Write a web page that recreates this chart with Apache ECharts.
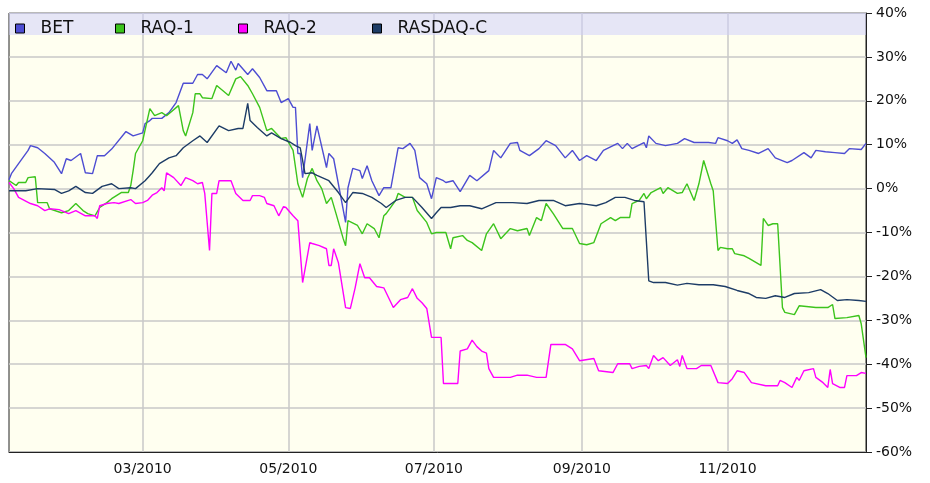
<!DOCTYPE html>
<html>
<head>
<meta charset="utf-8">
<script src="https://cdn.jsdelivr.net/npm/echarts@6/dist/echarts.min.js"></script>
<style>
html, body { margin: 0; padding: 0; background: #fff; }
#chart { width: 930px; height: 483px; }
</style>
</head>
<body>
<div id="chart"></div>
<script>
// x = day of 2010 (0 = Jan 1), y = change since start, in %
var bet = [[3,2],[4,3.4],[7,5.7],[11,8.7],[12,9.8],[15,9.3],[18,8],[22,6],[25,3.4],[27,6.8],[29,6.4],[33,8],[35,3.6],[38,3.4],[40,7.5],[43,7.5],[46,9],[52,13],[55,12],[59,12.7],[60,14.8],[62,15.5],[63,16],[67,16],[70,17.3],[73,19.6],[76,24],[80,24],[82,26],[84,26],[86,25],[90,28],[94,26.4],[96,29],[98,27],[99,28.5],[103,26],[105,27.3],[108,25.3],[111,22.3],[115,22.3],[117,19.6],[120,20.5],[122,18.5],[123,18.5],[124,8],[125,8],[126,2.5],[129,14.8],[130,8.7],[132,14.3],[136,4.8],[137,8],[139,6.8],[144,-7.7],[145,0.2],[147,4.6],[150,4.1],[151,2.3],[153,5.2],[155,1.8],[158,-1.6],[160,0.2],[163,0.2],[166,9.3],[168,9.1],[171,10.3],[173,8.7],[175,2.5],[178,1.1],[180,-2.3],[182,2.5],[185,1.8],[186,1.4],[189,1.8],[192,-0.7],[196,3],[199,1.8],[204,4.1],[206,8.7],[209,7],[213,10.3],[216,10.5],[217,8.7],[221,7.5],[225,9.1],[228,10.9],[232,9.8],[236,7],[239,8.7],[242,6.4],[245,7.5],[249,6.4],[252,8.7],[258,10.3],[260,9.1],[262,10.3],[264,9.1],[269,10.5],[270,9.3],[271,12],[274,10.3],[278,9.8],[283,10.3],[286,11.4],[290,10.5],[296,10.5],[299,10.3],[300,11.6],[304,10.9],[306,10.3],[308,11.1],[310,9.1],[313,8.7],[317,8],[321,9.1],[324,7],[329,5.9],[331,6.4],[336,8.2],[339,7],[341,8.7],[345,8.4],[349,8.2],[353,8],[355,9.1],[360,8.9],[362,10.3]];

var raq1 = [[3,1.8],[6,0.7],[7,1.4],[10,1.4],[11,2.5],[14,2.7],[15,-3.2],[19,-3.2],[20,-4.6],[25,-5.5],[28,-5],[31,-3.4],[34,-5],[36,-5.7],[39,-6.2],[41,-4.3],[44,-3.2],[46,-2.3],[50,-0.9],[53,-0.9],[54,0.7],[55,4.1],[56,8],[59,10.9],[62,18.2],[64,16.6],[67,17.3],[69,16.6],[74,18.9],[76,13.2],[77,12],[80,17.3],[81,21.6],[83,21.6],[84,20.7],[88,20.5],[90,23.5],[95,21.2],[98,25],[100,25.5],[103,23.5],[105,21.6],[108,18.5],[111,13.2],[113,13.7],[117,11.4],[119,11.6],[122,8.7],[124,1.1],[126,-2],[128,2.3],[130,4.6],[132,1.8],[134,0],[136,-3.4],[138,-2],[140,-5.7],[143,-11.4],[144,-13],[145,-7.3],[149,-8.4],[151,-10.3],[153,-8],[156,-9.1],[158,-11.2],[160,-6.2],[161,-5.7],[165,-2.7],[166,-1.1],[169,-2],[172,-2],[174,-5],[178,-7.7],[180,-10.3],[182,-10],[186,-10],[188,-13.7],[189,-11.2],[193,-10.7],[195,-11.8],[197,-12.3],[201,-14.1],[203,-10.3],[206,-8],[209,-11.4],[213,-9.1],[216,-9.6],[220,-9.1],[221,-10.7],[224,-6.6],[226,-7.3],[228,-3.4],[231,-5.7],[235,-9.1],[239,-9.1],[242,-12.5],[245,-12.8],[248,-12.3],[251,-8],[255,-6.6],[257,-7.3],[259,-6.6],[263,-6.6],[264,-3.4],[267,-2.7],[269,-1.1],[270,-2.3],[272,-0.9],[276,0.2],[277,-1.1],[279,0.2],[283,-1.1],[285,-0.9],[287,1.1],[290,-2.7],[292,1.1],[294,6.4],[297,1.1],[298,-0.5],[300,-14.1],[301,-13.4],[304,-13.7],[306,-13.7],[307,-14.8],[311,-15.3],[313,-15.9],[318,-17.5],[319,-6.8],[321,-8.4],[323,-8],[325,-8],[327,-27.1],[328,-28.2],[332,-28.7],[334,-26.7],[341,-27.1],[346,-27.1],[348,-26.4],[349,-29.6],[354,-29.4],[359,-28.9],[360,-30.8],[362,-38.5]];

var raq2 = [[3,1.4],[5,0],[7,-2],[12,-3.4],[15,-3.9],[18,-5],[20,-4.6],[24,-4.8],[28,-5.7],[31,-5],[35,-6.2],[39,-6.2],[40,-6.8],[41,-3.9],[44,-3.4],[47,-3.2],[49,-3.4],[54,-2.5],[56,-3.4],[59,-3.2],[61,-2.7],[63,-1.5],[65,-0.9],[67,0.2],[68,-0.5],[69,3.6],[72,2.5],[75,0.7],[77,2.5],[80,1.8],[82,1.1],[84,1.4],[85,-1.1],[87,-14.1],[88,-1.1],[90,-1.1],[91,1.8],[96,1.8],[98,-1.1],[101,-2.7],[104,-2.7],[105,-1.6],[108,-1.6],[110,-2],[111,-3.4],[114,-3.9],[116,-6.2],[118,-4.1],[119,-4.3],[122,-6.2],[124,-7.3],[126,-21.4],[129,-12.3],[130,-12.5],[133,-13],[136,-13.7],[137,-17.5],[138,-17.5],[139,-13.7],[141,-16.9],[144,-27.1],[146,-27.3],[148,-22.6],[150,-17.1],[152,-20.3],[154,-20.3],[157,-22.3],[160,-22.6],[164,-27.1],[167,-25.3],[170,-24.8],[172,-22.8],[174,-25],[176,-26],[178,-27.3],[180,-33.9],[184,-33.9],[185,-44.4],[191,-44.4],[192,-37],[195,-36.5],[197,-34.5],[199,-36],[201,-37],[203,-37.5],[204,-41],[206,-43],[213,-43],[216,-42.5],[220,-42.5],[224,-43],[228,-43],[230,-35.5],[236,-35.5],[239,-36.5],[242,-39.2],[248,-38.7],[250,-41.5],[256,-41.9],[258,-39.9],[263,-39.9],[264,-41],[267,-40.5],[270,-40.3],[271,-41],[273,-38],[275,-39.2],[277,-38.5],[280,-40.3],[283,-39],[284,-40.5],[285,-38],[287,-41],[291,-41],[293,-40.3],[297,-40.3],[300,-44.2],[304,-44.4],[306,-43.3],[308,-41.5],[311,-41.9],[314,-44.2],[320,-44.9],[325,-44.9],[326,-43.7],[328,-44.2],[331,-45.3],[333,-43],[334,-43.7],[336,-41.5],[340,-41],[341,-43],[344,-44.2],[346,-45.3],[347,-41.2],[348,-44.4],[351,-45.3],[353,-45.3],[354,-42.6],[358,-42.6],[360,-41.9],[362,-42.1]];

var rasdaq = [[3,-0.5],[10,-0.5],[15,0],[22,-0.2],[25,-1.1],[28,-0.5],[31,0.5],[35,-0.9],[38,-1.1],[42,0.5],[46,1.1],[49,0],[54,0.2],[56,0],[60,1.8],[62,3],[63,3.6],[66,5.7],[70,7],[73,7.5],[76,9.3],[80,10.9],[83,12],[86,10.5],[91,14.3],[95,13.2],[99,13.7],[101,13.7],[103,19.4],[104,15.5],[107,13.9],[111,12],[113,12.7],[117,11.4],[121,10.5],[123,9.8],[125,9.3],[126,6.4],[127,3.4],[130,3.6],[132,3],[137,1.8],[141,-0.9],[144,-3.2],[147,-0.9],[151,-1.1],[155,-2],[159,-3.4],[161,-4.3],[165,-2.7],[169,-2],[172,-2],[176,-4.3],[180,-6.8],[182,-5.5],[184,-4.3],[188,-4.3],[192,-3.9],[196,-3.9],[201,-4.6],[207,-3.2],[214,-3.2],[220,-3.4],[225,-2.7],[231,-2.7],[236,-3.9],[242,-3.4],[245,-3.6],[249,-3.9],[253,-3.2],[257,-2],[261,-2],[265,-2.7],[269,-3],[271,-21],[273,-21.4],[278,-21.4],[283,-22],[287,-21.6],[292,-21.9],[298,-21.9],[303,-22.3],[308,-23.2],[313,-23.9],[316,-24.8],[320,-25],[324,-24.4],[328,-24.8],[332,-23.9],[338,-23.7],[343,-23],[346,-23.9],[350,-25.5],[354,-25.3],[359,-25.5],[362,-25.7]];

var seriesNames = ['BET', 'RAQ-1', 'RAQ-2', 'RASDAQ-C'];
var seriesColors = ['#4d4dd2', '#3cc41c', '#ff00ff', '#1d3c66'];
var seriesData = [bet, raq1, raq2, rasdaq];
// first day of Mar, May, Jul, Sep, Nov 2010 (day of year)
var monthTicks = [59, 120, 181, 243, 304];
var monthLabels = ['03/2010', '05/2010', '07/2010', '09/2010', '11/2010'];
var firstDay = 3, lastDay = 362;

var myChart = echarts.init(document.getElementById('chart'));

var series = seriesNames.map(function (name, i) {
    return {
        name: name,
        type: 'line',
        symbol: 'none',
        lineStyle: { width: 1.4, color: seriesColors[i] },
        itemStyle: { color: seriesColors[i] },
        data: seriesData[i]
    };
});
// legend band at top of the plot
series[0].markArea = {
    silent: true,
    itemStyle: { color: 'rgba(205,205,252,0.5)' },
    data: [[{ yAxis: 35 }, { yAxis: 40 }]]
};

// one legend per item so each sits in its own slot, like the original
var legendLeft = [10, 110, 233, 367];
var legends = seriesNames.map(function (name, i) {
    return {
        left: legendLeft[i],
        top: 15,
        icon: 'rect',
        itemWidth: 9,
        itemHeight: 9,
        itemStyle: { borderColor: '#000', borderWidth: 1 },
        textStyle: { fontSize: 17, color: '#111', padding: [0, 0, 0, 11] },
        data: [name]
    };
});

var option = {
    backgroundColor: '#fff',
    animation: false,
    textStyle: { fontFamily: 'DejaVu Sans' },
    grid: {
        left: 9,
        right: 64,
        top: 13,
        bottom: 31,
        show: true,
        backgroundColor: '#fffff0',
        borderColor: '#222',
        borderWidth: 1
    },
    legend: legends,
    xAxis: {
        type: 'value',
        min: firstDay,
        max: lastDay,
        axisLine: { show: true, onZero: false, lineStyle: { color: '#222' } },
        axisTick: { show: false, customValues: monthTicks },
        axisLabel: {
            customValues: monthTicks,
            fontSize: 14,
            color: '#111',
            margin: 10,
            formatter: function (v) {
                return monthLabels[monthTicks.indexOf(v)];
            }
        },
        splitLine: { show: true, lineStyle: { color: '#c8c8c8', width: 1.5 } }
    },
    yAxis: {
        type: 'value',
        position: 'right',
        min: -60,
        max: 40,
        interval: 10,
        axisLine: { show: true, lineStyle: { color: '#222' } },
        axisTick: { show: true, length: 6, lineStyle: { color: '#222' } },
        axisLabel: { fontSize: 14, color: '#111', margin: 10, formatter: '{value}%' },
        splitLine: { show: true, lineStyle: { color: '#c8c8c8', width: 1.5 } }
    },
    series: series
};

myChart.setOption(option);
</script>
</body>
</html>
